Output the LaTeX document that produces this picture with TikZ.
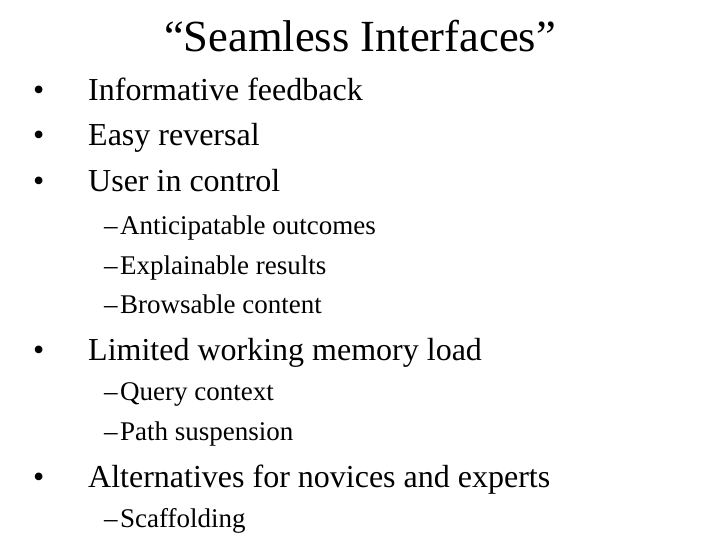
\documentclass[tikz,border=0pt]{standalone}
\usepackage{fontspec}
\setmainfont{Liberation Serif}
\begin{document}
\begin{tikzpicture}[x=1pt,y=-1pt,
  b1/.style={anchor=base west,font=\fontsize{32}{34}\selectfont,inner sep=0pt},
  b2/.style={anchor=base west,font=\fontsize{27}{29}\selectfont,inner sep=0pt}]
\useasboundingbox (0,0) rectangle (720,540);
\node[font=\fontsize{44.5}{48}\selectfont,inner sep=0pt,anchor=base] (t) at (360,52) {“Seamless Interfaces”};
\foreach \n/\y/\s in {a/101/Informative feedback,b/146/Easy reversal,c/192/User in control,d/360/Limited working memory load,e/487/Alternatives for novices and experts}{
  \node[b1] (\n m) at (33,\y) {•};
  \node[b1] (\n) at (88,\y) {\s};
}
\foreach \n/\y/\s in {c1/234/Anticipatable outcomes,c2/274/Explainable results,c3/313/Browsable content,d1/400/Query context,d2/440/Path suspension,e1/527/Scaffolding}{
  \node[b2] (\n m) at (104,\y) {–};
  \node[b2] (\n) at (120,\y) {\s};
}
\end{tikzpicture}
\end{document}
